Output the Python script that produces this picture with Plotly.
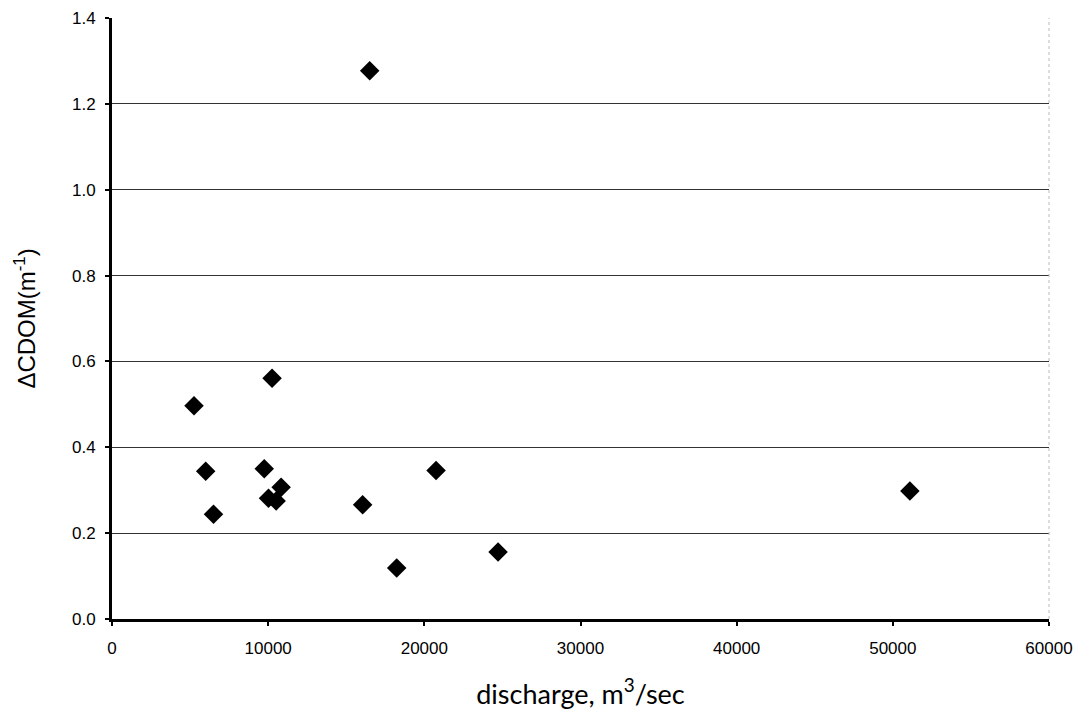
import plotly.graph_objects as go

discharge = [16500, 5250, 10250, 6000, 9750, 10830, 10020, 10510, 6500,
             16050, 20750, 18230, 24720, 51090]
dcdom = [1.277, 0.497, 0.561, 0.344, 0.350, 0.307, 0.281, 0.275, 0.244,
         0.266, 0.346, 0.119, 0.156, 0.298]

x_ticks = [0, 10000, 20000, 30000, 40000, 50000, 60000]
y_ticks = [0.0, 0.2, 0.4, 0.6, 0.8, 1.0, 1.2, 1.4]

fig = go.Figure()
fig.add_trace(go.Scatter(
    x=discharge, y=dcdom, mode="markers",
    marker=dict(symbol="diamond", size=15, color="black"),
    showlegend=False,
))

fig.update_layout(
    width=1086, height=721,
    margin=dict(l=104, r=45, t=10, b=110),
    paper_bgcolor="white", plot_bgcolor="white",
    font=dict(family="Liberation Sans, Arial", color="black", size=17),
)
fig.update_xaxes(
    range=[0, 60000], tickvals=x_ticks, ticktext=[str(v) for v in x_ticks],
    showgrid=False, zeroline=False, automargin=False,
    showline=True, linecolor="black", linewidth=3,
    ticks="outside", ticklen=4, tickwidth=2, tickcolor="black",
    tickfont=dict(size=17), ticklabelstandoff=8, ticklabeloverflow="allow",
    title=dict(text="discharge, m<sup>3</sup>/sec",
               font=dict(family="Lato, Open Sans", size=27), standoff=28),
)
fig.update_yaxes(
    range=[0, 1.4], tickvals=y_ticks, ticktext=[f"{v:.1f}" for v in y_ticks],
    showgrid=True, gridcolor="#333333", gridwidth=1,
    zeroline=False, automargin=False,
    showline=True, linecolor="black", linewidth=3,
    ticks="outside", ticklen=4, tickwidth=2, tickcolor="black",
    tickfont=dict(size=17), ticklabelstandoff=6, ticklabeloverflow="allow",
    title=dict(text="ΔCDOM(m<sup>-1</sup>)",
               font=dict(family="Liberation Sans, Arial", size=24), standoff=30),
)
fig.add_shape(type="line", xref="paper", yref="paper", x0=1, x1=1, y0=0, y1=1,
              line=dict(color="#bbbbbb", width=1, dash="dot"))
fig.write_html("out.html")
